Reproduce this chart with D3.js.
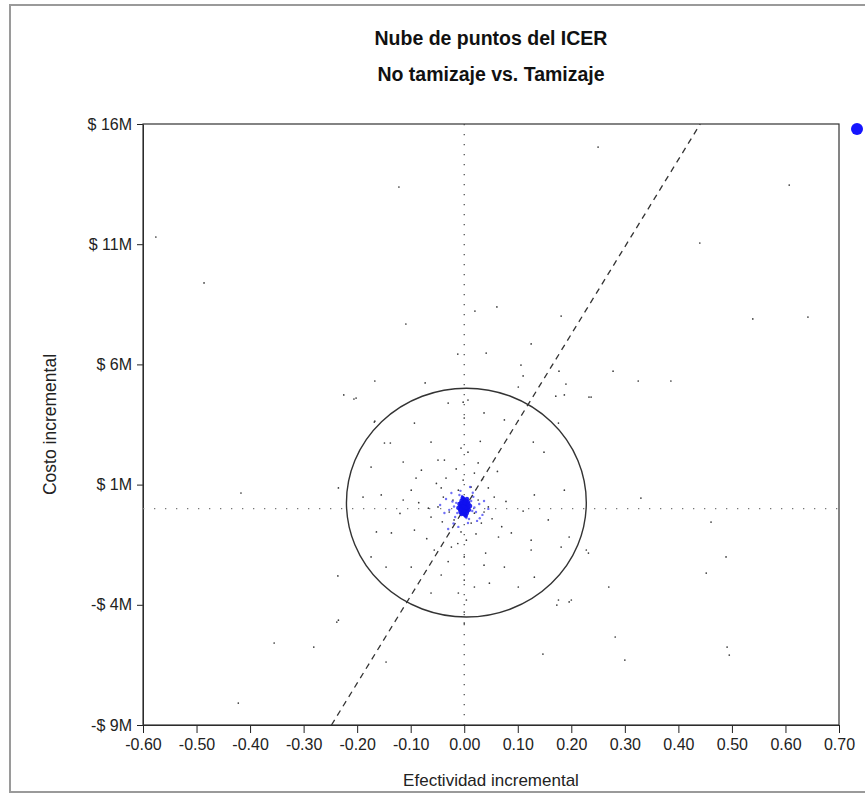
<!DOCTYPE html>
<html>
<head>
<meta charset="utf-8">
<script src="https://cdn.jsdelivr.net/npm/d3@7"></script>
<style>
  body { margin: 0; background: #fff; }
  svg { display: block; font-family: "Liberation Sans", Arial, sans-serif; }
</style>
</head>
<body>
<div id="chart"></div>
<script>
// Textos
const titleLines = ['Nube de puntos del ICER', 'No tamizaje vs. Tamizaje'];
const xLabel = 'Efectividad incremental';
const yLabel = 'Costo incremental';

// Ejes (efectividad, costo en millones)
const xTicks = [-0.6, -0.5, -0.4, -0.3, -0.2, -0.1, 0, 0.1, 0.2, 0.3, 0.4, 0.5, 0.6, 0.7];
const yTicks = [-9, -4, 1, 6, 11, 16];

// Umbral de disposición a pagar (millones por unidad de efectividad)
const wtp = 36.3;

// Elipse de confianza: centro y semiejes
const ellipseCenter = [0.004, 0.25];
const ellipseRadii = [0.224, 4.76];

// Iteraciones dispersas (efectividad, costo M)
const simPoints = [
    [-0.122, 13.38], [-0.576, 11.30], [-0.486, 9.39], [-0.109, 7.68], [0.020, 8.22],
    [-0.012, 6.43], [0.041, 6.47], [-0.167, 5.31], [-0.073, 5.23], [-0.225, 4.73],
    [-0.206, 4.56], [-0.167, 3.64], [0.250, 15.04], [0.607, 13.46], [0.440, 11.05],
    [0.061, 8.39], [0.181, 8.01], [0.539, 7.89], [0.642, 7.97], [0.125, 6.85],
    [0.106, 5.97], [0.177, 5.72], [0.278, 5.72], [0.325, 5.31], [0.386, 5.31],
    [0.190, 5.18], [0.171, 4.68], [0.233, 4.64], [0.110, 5.52],
    [-0.417, 0.65], [0.330, 0.44], [0.461, -0.56], [-0.236, -2.80], [0.489, -2.01],
    [0.452, -2.68], [0.270, -3.26], [-0.238, -4.72], [0.173, -4.01], [0.196, -3.88],
    [0.282, -5.34], [-0.281, -5.76], [-0.355, -5.59], [0.147, -6.05], [0.300, -6.30],
    [0.491, -5.76], [0.495, -6.09], [-0.146, -6.38], [-0.422, -8.09], [0.228, -1.72],
    [-0.202, 4.60], [-0.168, 3.60], [-0.149, 2.73], [-0.138, 2.73], [-0.093, 3.56],
    [-0.030, 4.39], [-0.002, 4.43], [0.007, 4.52], [0.000, 3.77], [0.037, 3.98],
    [0.075, 3.69], [0.101, 5.06], [0.187, 4.73], [0.176, 3.56], [0.129, 2.77],
    [0.149, 2.35], [-0.062, 2.77], [-0.049, 2.02], [-0.037, 2.02], [-0.006, 2.52],
    [0.007, 2.35], [0.026, 1.90], [0.019, 1.48], [-0.090, 1.27], [-0.114, 1.94],
    [-0.174, 1.73], [-0.189, 0.48], [-0.155, 0.57], [-0.099, 0.77], [-0.114, 0.36],
    [-0.067, 0.02], [-0.062, -0.35], [-0.043, 0.86], [-0.039, 0.48], [-0.034, 1.27],
    [0.045, 0.86], [0.056, 0.48], [0.037, -0.14], [0.032, -0.60], [0.064, -1.18],
    [0.088, -1.01], [0.125, -1.31], [0.157, -0.47], [0.131, 0.57], [0.187, 0.77],
    [0.196, -1.18], [0.181, -1.60], [0.125, -1.72], [0.075, -2.43], [0.037, -2.35],
    [0.000, -2.01], [0.004, -1.31], [-0.024, -1.60], [-0.056, -1.72], [-0.093, -0.89],
    [-0.136, -1.01], [-0.164, -0.97], [-0.174, -2.01], [-0.146, -2.43], [-0.099, -2.43],
    [-0.043, -2.76], [0.000, -2.97], [0.019, -3.26], [0.047, -3.10], [-0.011, -3.51],
    [0.004, -3.80], [-0.062, -3.51], [0.101, -3.26], [0.131, -2.85], [0.176, -3.80],
    [0.200, -3.80], [0.232, -1.85], [-0.235, 0.86], [-0.235, -4.64], [0.237, 4.64],
    [0.000, -4.76], [0.000, -4.30],
    [-0.011, 0.77], [0.013, 0.90], [-0.021, 0.36], [0.026, 0.36], [-0.028, -0.14],
    [0.019, -0.19], [-0.019, -0.47], [0.013, -0.60], [-0.049, 0.07], [0.045, 0.07],
    [-0.002, 1.19], [-0.006, -0.97], [-0.080, 1.60], [0.062, 1.55], [-0.070, -1.25],
    [0.070, -0.75], [-0.030, -2.20], [0.030, 2.80], [-0.120, -0.20], [0.110, -0.10],
    [-0.052, 1.05], [0.034, 1.22], [-0.015, 1.65], [0.052, -0.42], [-0.041, -0.55],
    [0.022, -1.05], [-0.085, 0.25], [0.078, 0.30], [-0.012, -1.45], [0.040, -1.85]
];

// Nube central (iteraciones concentradas)
const centerCloud = [
    [0.000, 0.07], [0.004, 0.03], [-0.004, 0.11], [0.002, 0.19], [-0.002, -0.05],
    [0.006, 0.15], [-0.006, -0.01], [0.007, 0.03], [-0.007, 0.11], [0.002, -0.14],
    [-0.002, 0.28], [0.004, 0.32], [-0.004, -0.18], [0.009, -0.05], [-0.009, 0.19],
    [0.006, -0.10], [-0.006, 0.24], [0.000, 0.36], [0.000, -0.22], [0.011, 0.11],
    [-0.011, 0.03], [0.002, -0.26], [-0.002, 0.40], [0.007, 0.28], [-0.007, -0.14],
    [0.004, -0.01], [-0.004, 0.19], [0.006, 0.07], [-0.006, 0.07], [0.000, -0.01],
    [0.000, 0.15], [0.002, 0.03], [-0.002, 0.11], [0.003, 0.22], [-0.003, -0.08],
    [0.005, -0.18], [-0.005, 0.33], [0.001, 0.26], [-0.001, -0.12], [0.008, 0.20],
    [-0.008, -0.04], [0.003, -0.30], [-0.003, 0.44], [0.005, 0.40], [-0.005, -0.22],
    [0.015, -0.10], [-0.015, 0.24], [0.013, 0.32], [-0.013, -0.18], [0.019, 0.05],
    [-0.019, 0.09], [0.004, -0.39], [-0.004, 0.53], [0.022, -0.14], [-0.022, 0.30],
    [0.009, -0.43], [-0.009, 0.57], [0.028, 0.19], [-0.028, -0.05], [0.017, 0.49],
    [-0.017, -0.35], [0.034, -0.26], [-0.034, 0.40], [0.007, -0.60], [-0.007, 0.74],
    [0.037, 0.32], [-0.037, -0.18], [0.024, -0.51], [-0.024, 0.65], [0.045, -0.01],
    [-0.045, 0.15], [0.011, 0.90], [-0.011, -0.76], [-0.020, -0.62], [-0.030, -0.85],
    [0.016, 0.66], [0.029, -0.40]
];

const W = 865, H = 794;
const margin = { top: 124, right: 26, bottom: 69, left: 143 };
const plotW = W - margin.left - margin.right;
const plotH = H - margin.top - margin.bottom;

const svg = d3.select('#chart').append('svg')
    .attr('width', W)
    .attr('height', H);

// marco exterior
svg.append('rect')
    .attr('x', 10).attr('y', 5)
    .attr('width', W + 20).attr('height', H - 7)
    .attr('fill', 'none')
    .attr('stroke', '#9a9a9a')
    .attr('stroke-width', 2);

// títulos
svg.selectAll('.title')
    .data(titleLines)
    .join('text')
    .attr('class', 'title')
    .attr('x', margin.left + plotW / 2)
    .attr('y', (d, i) => 45 + i * 36)
    .attr('text-anchor', 'middle')
    .attr('font-size', 19.5)
    .attr('font-weight', 'bold')
    .attr('fill', '#111')
    .text(d => d);

const x = d3.scaleLinear().domain([-0.6, 0.7]).range([0, plotW]);
const y = d3.scaleLinear().domain([-9, 16]).range([plotH, 0]);

const g = svg.append('g').attr('transform', `translate(${margin.left},${margin.top})`);

g.append('defs').append('clipPath').attr('id', 'plotClip')
    .append('rect').attr('width', plotW).attr('height', plotH);

// eje X
const xAxis = g.append('g')
    .attr('transform', `translate(0,${plotH})`)
    .call(d3.axisBottom(x).tickValues(xTicks).tickSize(8).tickSizeOuter(0).tickPadding(6)
        .tickFormat(d => d.toFixed(2)));

// eje Y
const yAxis = g.append('g')
    .call(d3.axisLeft(y).tickValues(yTicks).tickSize(6).tickSizeOuter(0).tickPadding(5)
        .tickFormat(d => (d < 0 ? '-$ ' : '$ ') + Math.abs(d) + 'M'));

[xAxis, yAxis].forEach(a => {
    a.selectAll('text').attr('font-size', 16).attr('fill', '#222')
        .attr('font-family', '"Liberation Sans", Arial, sans-serif');
    a.selectAll('line').attr('stroke', '#222');
    a.select('.domain').attr('stroke', '#222');
});

// caja del gráfico
g.append('rect')
    .attr('width', plotW).attr('height', plotH)
    .attr('fill', 'none')
    .attr('stroke', '#333')
    .attr('stroke-width', 1.2);

const plot = g.append('g').attr('clip-path', 'url(#plotClip)');

// líneas de referencia punteadas en cero
plot.append('line')
    .attr('x1', x(0)).attr('x2', x(0))
    .attr('y1', 0).attr('y2', plotH)
    .attr('stroke', '#444').attr('stroke-width', 1.2)
    .attr('stroke-dasharray', '1.3,8.7');

plot.append('line')
    .attr('x1', 0).attr('x2', plotW)
    .attr('y1', y(0)).attr('y2', y(0))
    .attr('stroke', '#777').attr('stroke-width', 1.2)
    .attr('stroke-dasharray', '1.3,9.7');

// línea del umbral (pendiente = wtp)
const wtpLine = d3.line()
    .x(d => x(d / wtp))
    .y(d => y(d));

plot.append('path')
    .attr('d', wtpLine(y.domain()))
    .attr('fill', 'none')
    .attr('stroke', '#333')
    .attr('stroke-width', 1.3)
    .attr('stroke-dasharray', '6,5');

// elipse de confianza
plot.append('ellipse')
    .attr('cx', x(ellipseCenter[0]))
    .attr('cy', y(ellipseCenter[1]))
    .attr('rx', x(ellipseRadii[0]) - x(0))
    .attr('ry', y(0) - y(ellipseRadii[1]))
    .attr('fill', 'none')
    .attr('stroke', '#333')
    .attr('stroke-width', 1.4);

// puntos dispersos
plot.selectAll('.sim')
    .data(simPoints)
    .join('circle')
    .attr('class', 'sim')
    .attr('cx', d => x(d[0]))
    .attr('cy', d => y(d[1]))
    .attr('r', 0.85)
    .attr('fill', '#3a3a3a');

// nube central azul
plot.selectAll('.cloud')
    .data(centerCloud)
    .join('circle')
    .attr('class', 'cloud')
    .attr('cx', d => x(d[0]))
    .attr('cy', d => y(d[1]))
    .attr('r', (d, i) => i < 45 ? 2.2 : 1.2)
    .attr('fill', '#1010f0')
    .attr('fill-opacity', (d, i) => i < 45 ? 0.9 : 0.6);

// marcador de leyenda (cortado en el borde)
svg.append('circle')
    .attr('cx', margin.left + plotW + 18)
    .attr('cy', margin.top + 5)
    .attr('r', 6)
    .attr('fill', '#1515ff');

// títulos de ejes
svg.append('text')
    .attr('x', margin.left + plotW / 2)
    .attr('y', 786)
    .attr('text-anchor', 'middle')
    .attr('font-size', 17)
    .attr('fill', '#222')
    .text(xLabel);

svg.append('text')
    .attr('transform', `translate(56,${margin.top + plotH / 2}) rotate(-90)`)
    .attr('text-anchor', 'middle')
    .attr('font-size', 17.5)
    .attr('fill', '#222')
    .text(yLabel);
</script>
</body>
</html>
